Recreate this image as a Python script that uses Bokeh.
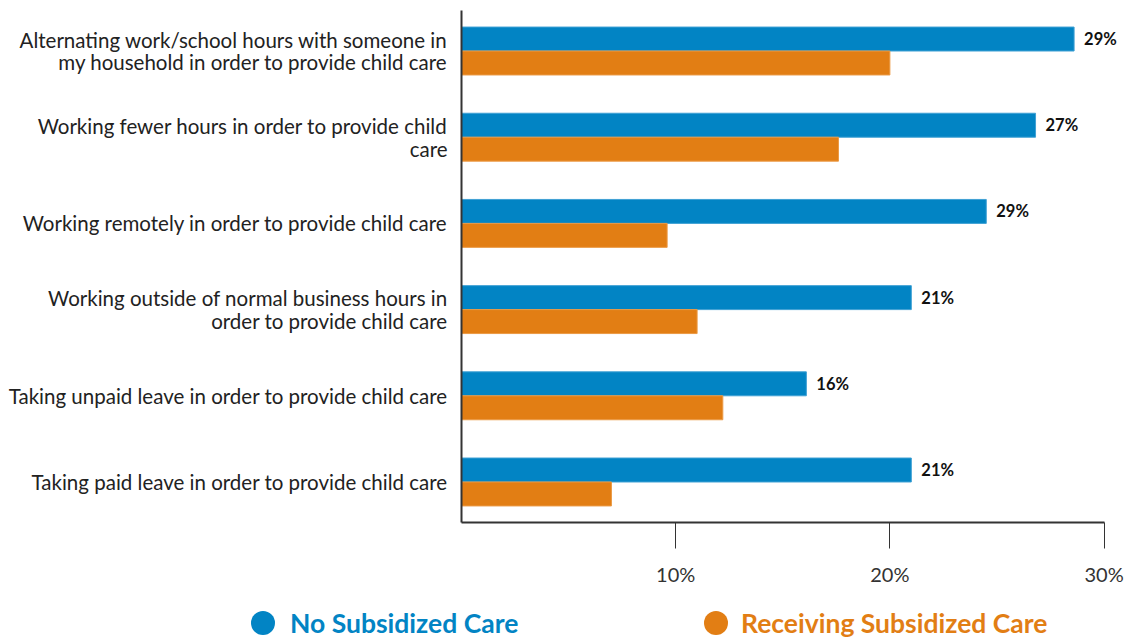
from bokeh.plotting import figure
from bokeh.layouts import column
from bokeh.models import (ColumnDataSource, Range1d, FixedTicker, PrintfTickFormatter, Div)
from bokeh.transform import dodge
from bokeh.core.properties import value
from bokeh.embed import file_html
from bokeh.resources import INLINE

categories = [
    "Alternating work/school hours with someone in\nmy household in order to provide child care",
    "Working fewer hours in order to provide child\ncare",
    "Working remotely in order to provide child care",
    "Working outside of normal business hours in\norder to provide child care",
    "Taking unpaid leave in order to provide child care",
    "Taking paid leave in order to provide child care",
]
no_subsidized = [28.6, 26.8, 24.5, 21.0, 16.1, 21.0]
receiving_subsidized = [20.0, 17.6, 9.6, 11.0, 12.2, 7.0]
value_labels = ["29%", "27%", "29%", "21%", "16%", "21%"]
x_ticks = [10, 20, 30]
series_names = ["No Subsidized Care", "Receiving Subsidized Care"]

BLUE = "#0284C4"
ORANGE = "#E27E14"
FONT = "Lato"

pos = list(range(len(categories)))
src = ColumnDataSource(dict(pos=pos, blue=no_subsidized, orange=receiving_subsidized,
                            lab=value_labels))

p = figure(width=1128, height=589, output_backend="svg", toolbar_location=None,
           x_range=Range1d(0, 31.0), y_range=Range1d(5.47, -0.47),
           min_border_left=461, min_border_right=3, min_border_top=10,
           min_border_bottom=67)
p.outline_line_color = None
p.xgrid.visible = False
p.ygrid.visible = False

bar_h = 0.278
p.hbar(y=dodge("pos", -bar_h / 2), height=bar_h, left=0, right="blue", source=src,
       fill_color=BLUE, line_color="#3fa0d4", line_width=1)
p.hbar(y=dodge("pos", bar_h / 2), height=bar_h, left=0, right="orange", source=src,
       fill_color=ORANGE, line_color="#eb9a45", line_width=1)

p.text(x="blue", y=dodge("pos", -bar_h / 2), text="lab", source=src, x_offset=10,
       text_baseline="middle", text_align="left", text_font=value(FONT),
       text_font_style="bold", text_font_size="16.5px", text_color="#111111")

# x axis
xa = p.xaxis[0]
xa.ticker = FixedTicker(ticks=x_ticks)
xa.formatter = PrintfTickFormatter(format="%d%%")
xa.bounds = (0, 30)
xa.axis_line_width = 2
xa.axis_line_color = "#333333"
xa.major_tick_in = 0
xa.major_tick_out = 26
xa.major_tick_line_color = "#333333"
xa.major_tick_line_width = 1
xa.minor_tick_line_color = None
xa.major_label_standoff = 13
xa.major_label_text_font = FONT
xa.major_label_text_font_size = "20px"
xa.major_label_text_color = "#333333"

# y axis
ya = p.yaxis[0]
ya.ticker = FixedTicker(ticks=pos)
ya.major_label_overrides = {i: c for i, c in zip(pos, categories)}
ya.axis_line_width = 2
ya.axis_line_color = "#333333"
ya.major_tick_in = 0
ya.major_tick_out = 0
ya.minor_tick_line_color = None
ya.major_label_standoff = 14
ya.major_label_text_font = FONT
ya.major_label_text_font_size = "20.5px"
ya.major_label_text_line_height = 0.95
ya.major_label_text_color = "#222222"
ya.major_label_text_align = "right"

# legend strip (HTML)
def legend_entry(name, color, dot_left, text_left):
    return (f'<span style="position:absolute;left:{dot_left}px;top:22px;width:24px;height:24px;'
            f'border-radius:50%;background:{color};"></span>'
            f'<span style="position:absolute;left:{text_left}px;top:18px;line-height:32px;'
            f'white-space:nowrap;color:{color};">{name}</span>')

legend_html = ('<div style="position:relative;width:1128px;height:50px;font-family:Lato;'
               'font-weight:bold;font-size:26.5px;">'
               + legend_entry(series_names[0], BLUE, 251, 290)
               + legend_entry(series_names[1], ORANGE, 704, 741)
               + '</div>')
legend_div = Div(text=legend_html, width=1128, height=50, margin=0)

open("out.html", "w").write(file_html(column(p, legend_div, spacing=0), INLINE))
